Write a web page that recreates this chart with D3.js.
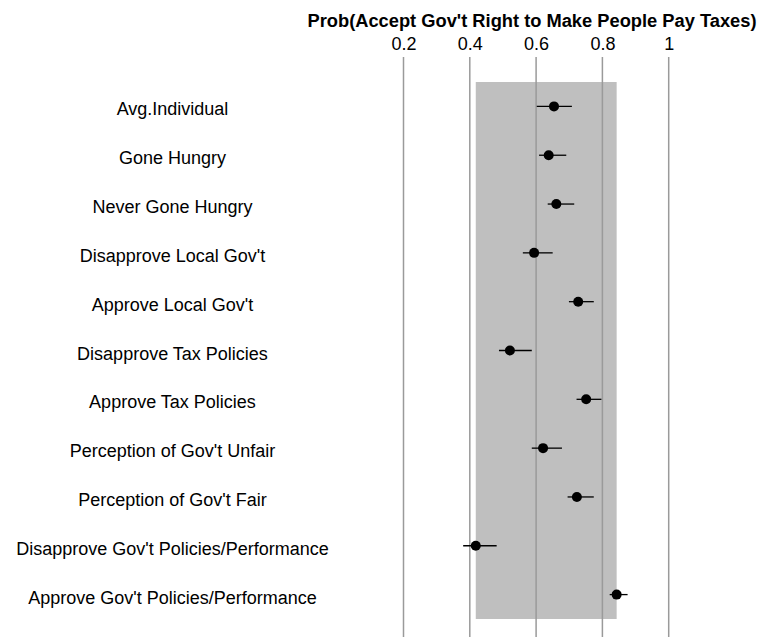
<!DOCTYPE html>
<html>
<head>
<meta charset="utf-8">
<script src="https://cdn.jsdelivr.net/npm/d3@7"></script>
<style>
  html, body { margin: 0; padding: 0; background: #fff; }
  svg { display: block; }
  text { font-family: "Liberation Sans", Arial, Helvetica, sans-serif; }
</style>
</head>
<body>
<svg id="chart" width="769" height="637"></svg>
<script>
const categories = [
  "Avg.Individual",
  "Gone Hungry",
  "Never Gone Hungry",
  "Disapprove Local Gov't",
  "Approve Local Gov't",
  "Disapprove Tax Policies",
  "Approve Tax Policies",
  "Perception of Gov't Unfair",
  "Perception of Gov't Fair",
  "Disapprove Gov't Policies/Performance",
  "Approve Gov't Policies/Performance"
];
const estimates = [0.654, 0.638, 0.661, 0.594, 0.727, 0.521, 0.751, 0.621, 0.723, 0.418, 0.843];
const lowerCI  = [0.602, 0.609, 0.635, 0.560, 0.699, 0.488, 0.722, 0.587, 0.695, 0.380, 0.822];
const upperCI  = [0.708, 0.691, 0.715, 0.650, 0.774, 0.587, 0.797, 0.678, 0.774, 0.481, 0.876];
const tickValues = [0.2, 0.4, 0.6, 0.8, 1];
const tickLabels = ["0.2", "0.4", "0.6", "0.8", "1"];
const axisTitle = "Prob(Accept Gov't Right to Make People Pay Taxes)";

const data = categories.map((c, i) => ({ cat: c, est: estimates[i], lo: lowerCI[i], hi: upperCI[i] }));

const svg = d3.select("#chart");
const x = d3.scaleLinear().domain([0.2, 1]).range([403.5, 668.7]);
const y = d3.scaleBand().domain(categories).range([82, 619]).padding(0);
const yc = c => y(c) + y.bandwidth() / 2;

// shaded range between min and max estimate
svg.append("rect")
  .attr("x", x(d3.min(estimates)))
  .attr("width", x(d3.max(estimates)) - x(d3.min(estimates)))
  .attr("y", y.range()[0])
  .attr("height", y.range()[1] - y.range()[0])
  .attr("fill", "#bfbfbf");

// axis on top
const axis = d3.axisTop(x).tickValues(tickValues)
  .tickFormat((d, i) => tickLabels[i])
  .tickSize(0).tickPadding(0);
const gAxis = svg.append("g").attr("transform", "translate(0,50)").call(axis);
gAxis.select(".domain").remove();
gAxis.selectAll("text")
  .attr("font-size", 18)
  .attr("fill", "#000")
  .attr("dy", 0)
  .style("font-family", "'Liberation Sans', Arial, sans-serif");

// vertical grid lines
svg.append("g").selectAll("line").data(tickValues).join("line")
  .attr("x1", d => x(d)).attr("x2", d => x(d))
  .attr("y1", 57).attr("y2", 637)
  .attr("stroke", "#9a9a9a").attr("stroke-width", 1.5);

// title
svg.append("text")
  .attr("x", 532).attr("y", 27)
  .attr("text-anchor", "middle")
  .attr("font-size", 18.3).attr("font-weight", "bold")
  .attr("fill", "#000")
  .text(axisTitle);

// category labels
svg.append("g").selectAll("text").data(data).join("text")
  .attr("x", 172.5)
  .attr("y", d => yc(d.cat) + 9)
  .attr("text-anchor", "middle")
  .attr("font-size", 18)
  .attr("fill", "#000")
  .text(d => d.cat);

// CI lines
svg.append("g").selectAll("line").data(data).join("line")
  .attr("x1", d => x(d.lo)).attr("x2", d => x(d.hi))
  .attr("y1", d => yc(d.cat)).attr("y2", d => yc(d.cat))
  .attr("stroke", "#000").attr("stroke-width", 1.3);

// points
svg.append("g").selectAll("circle").data(data).join("circle")
  .attr("cx", d => x(d.est)).attr("cy", d => yc(d.cat))
  .attr("r", 5).attr("fill", "#000");
</script>
</body>
</html>
